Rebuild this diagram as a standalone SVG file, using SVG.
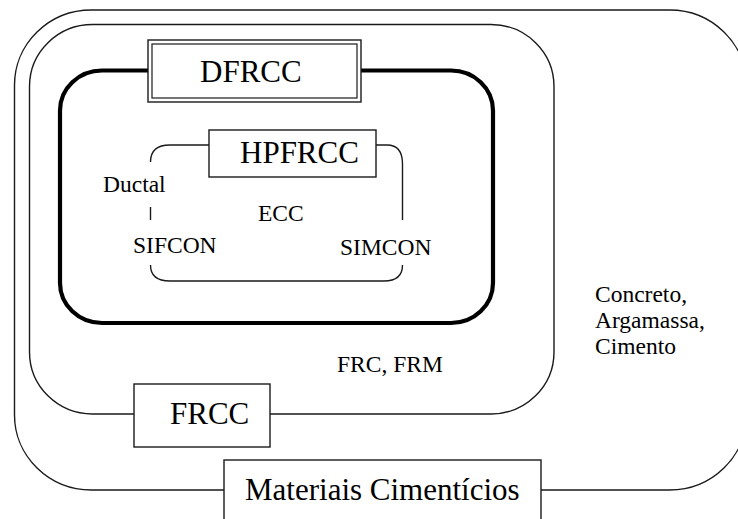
<svg xmlns="http://www.w3.org/2000/svg" width="738" height="519" viewBox="0 0 738 519">
<style>
.ln{fill:none;stroke:#1a1a1a;stroke-width:1.4}
.thick{fill:none;stroke:#000;stroke-width:4.2}
.box{fill:#fff;stroke:#1a1a1a;stroke-width:1.4}
.big{font-family:"Liberation Serif","Times New Roman",serif;font-size:31px;fill:#000}
.sm{font-family:"Liberation Serif","Times New Roman",serif;font-size:23.5px;fill:#000}
</style>
<rect width="738" height="519" fill="#fff"/>
<g id="materiais">
<rect class="ln" x="14.5" y="10" width="732" height="480" rx="77" ry="75"/>
<rect class="box" x="224" y="460" width="317" height="80"/>
<text class="big" x="245" y="500">Materiais Cimentícios</text>
<text class="sm" x="595" y="302">Concreto,</text>
<text class="sm" x="595" y="328">Argamassa,</text>
<text class="sm" x="595" y="354">Cimento</text>
</g>
<g id="frcc">
<rect class="ln" x="29.5" y="24.5" width="524.5" height="389.5" rx="63" ry="62"/>
<rect class="box" x="134" y="384" width="136" height="63"/>
<text class="big" x="170" y="424">FRCC</text>
<text class="sm" x="337" y="372">FRC, FRM</text>
</g>
<g id="dfrcc">
<rect class="thick" x="60" y="70.5" width="433" height="252.5" rx="42" ry="40"/>
<rect class="box" x="148" y="40" width="213" height="62"/>
<rect fill="none" stroke="#1a1a1a" stroke-width="1.2" x="152" y="44" width="205" height="54"/>
<text class="big" x="200" y="82">DFRCC</text>
</g>
<g id="connectors">
<path class="ln" d="M209,145 H170 Q150.5,145 150.5,162"/>
<path class="ln" d="M150.5,207 V220"/>
<path class="ln" d="M150.5,265 Q150.5,281 170,281 H384 Q402.5,281 402.5,265"/>
<path class="ln" d="M376,145 H387 Q402.5,145 402.5,164 V220"/>
</g>
<g id="hpfrcc">
<rect class="box" x="209" y="130" width="167" height="47"/>
<text class="big" x="240" y="163">HPFRCC</text>
</g>
<g id="ductal"><text class="sm" x="103" y="192">Ductal</text></g>
<g id="ecc"><text class="sm" x="258" y="221">ECC</text></g>
<g id="sifcon"><text class="sm" x="133" y="253">SIFCON</text></g>
<g id="simcon"><text class="sm" x="340" y="255">SIMCON</text></g>
</svg>
